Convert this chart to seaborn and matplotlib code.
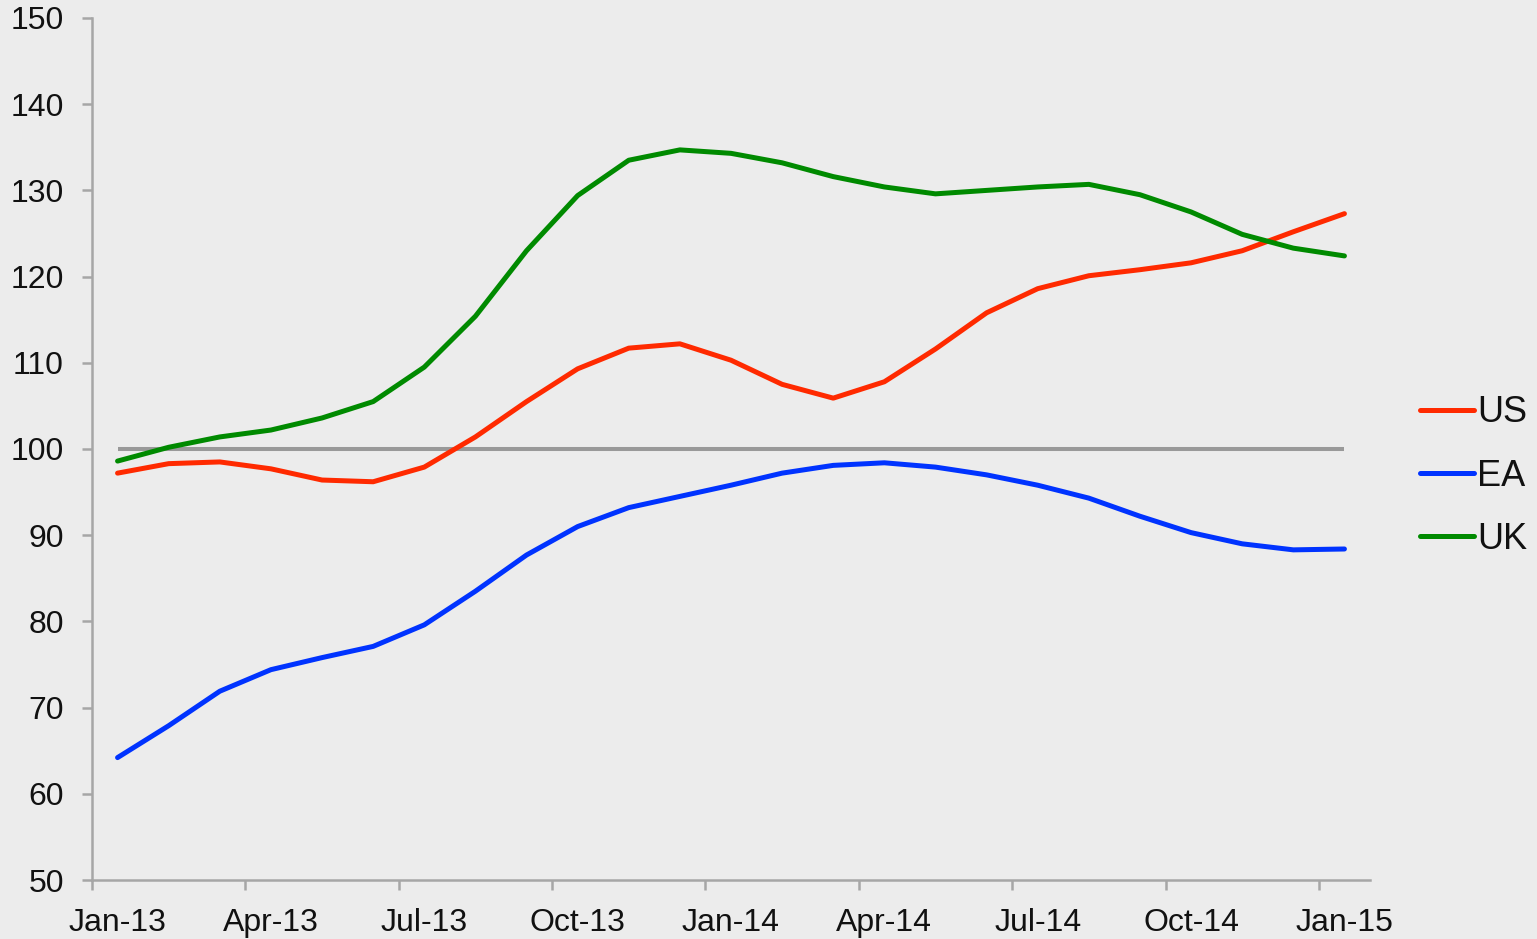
import pandas as pd
import seaborn as sns
from matplotlib import pyplot as plt

px = 1/100

# monthly, Jan-13 .. Jan-15
months = pd.date_range('2013-01-01', '2015-01-01', freq='MS')

us = [97.2, 98.3, 98.5, 97.7, 96.4, 96.2, 97.9, 101.4, 105.5, 109.3, 111.7, 112.2, 110.3,
      107.5, 105.9, 107.8, 111.6, 115.8, 118.6, 120.1, 120.8, 121.6, 123.0, 125.2, 127.3]
ea = [64.2, 67.9, 71.9, 74.4, 75.8, 77.1, 79.6, 83.5, 87.7, 91.0, 93.2, 94.5, 95.8,
      97.2, 98.1, 98.4, 97.9, 97.0, 95.8, 94.3, 92.2, 90.3, 89.0, 88.3, 88.4]
uk = [98.6, 100.2, 101.4, 102.2, 103.6, 105.5, 109.5, 115.4, 123.0, 129.4, 133.5, 134.7, 134.3,
      133.2, 131.6, 130.4, 129.6, 130.0, 130.4, 130.7, 129.5, 127.5, 124.9, 123.3, 122.4]

series_names = ['US', 'EA', 'UK']
colors = {'US': '#ff2a00', 'EA': '#0033ff', 'UK': '#008a00'}
baseline = 100

df = pd.DataFrame({'US': us, 'EA': ea, 'UK': uk})
df['pos'] = range(len(months))
df = df.melt(id_vars='pos', var_name='series', value_name='value')

sns.set_style("white")
plt.rcParams['font.family'] = ['Liberation Sans', 'DejaVu Sans']

bg = '#ececec'
axis_gray = '#a6a6a6'

fig = plt.figure(figsize=(1537*px, 939*px), dpi=100, facecolor=bg)
ax = fig.add_axes([92/1537, 59/939, (1370-92)/1537, (880-18)/939])
ax.set_facecolor(bg)

ax.hlines(baseline, 0, len(months)-1, color='#999999', linewidth=2.9, zorder=1)

g = sns.lineplot(data=df, x='pos', y='value', hue='series', hue_order=series_names,
                 palette=colors, linewidth=3.6, ax=ax, zorder=3)

ax.set_xlim(-0.5, len(months)-0.5)
ax.set_ylim(50, 150)
ax.set_yticks(range(50, 151, 10))

tick_pos = list(range(0, len(months), 3))
ax.set_xticks(tick_pos)
ax.set_xticklabels([months[i].strftime('%b-%y') for i in tick_pos])
ax.set_xticks([p - 0.5 for p in tick_pos], minor=True)
ax.tick_params(axis='x', which='major', bottom=True, length=0, pad=20,
               labelsize=23, labelcolor='#111111')
ax.tick_params(axis='x', which='minor', bottom=True, length=7, width=1.8,
               color=axis_gray, direction='out')
ax.tick_params(axis='y', left=True, length=7.2, width=1.8, color=axis_gray, direction='out',
               pad=13, labelsize=23, labelcolor='#111111')

for s in ['top', 'right']:
    ax.spines[s].set_visible(False)
for s in ['left', 'bottom']:
    ax.spines[s].set_color(axis_gray)
    ax.spines[s].set_linewidth(1.8)

ax.set_xlabel('')
ax.set_ylabel('')

handles, labels = ax.get_legend_handles_labels()
ax.legend(handles, labels, loc='center left', bbox_to_anchor=(1.028, 0.4685),
          frameon=False, fontsize=26, handlelength=1.5, handletextpad=0.08,
          labelspacing=0.78, borderaxespad=0, labelcolor='#111111')

plt.savefig('out.png', dpi=100, facecolor=bg)
